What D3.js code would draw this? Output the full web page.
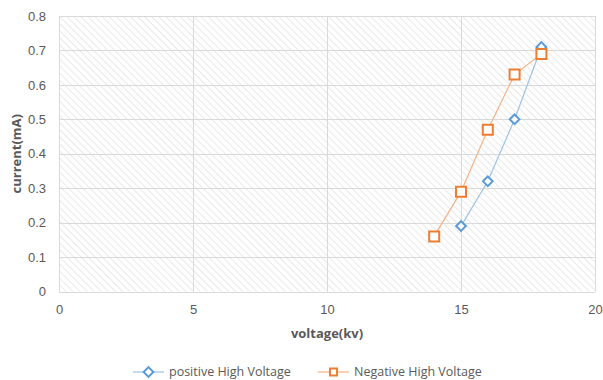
<!DOCTYPE html>
<html>
<head>
<meta charset="utf-8">
<script src="https://cdn.jsdelivr.net/npm/d3@7"></script>
<style>
  html, body { margin: 0; padding: 0; background: #fff; }
  svg { display: block; font-family: "Open Sans", "Liberation Sans", sans-serif; }
</style>
</head>
<body>
<svg id="chart" width="603" height="380"></svg>
<script>
// Measured discharge current against applied voltage
const posVoltage = [15, 16, 17, 18];
const posCurrent = [0.19, 0.32, 0.50, 0.71];
const negVoltage = [14, 15, 16, 17, 18];
const negCurrent = [0.16, 0.29, 0.47, 0.63, 0.69];
const xTicks = [0, 5, 10, 15, 20];
const yTicks = [0, 0.1, 0.2, 0.3, 0.4, 0.5, 0.6, 0.7, 0.8];
const seriesNames = ["positive High Voltage", "Negative High Voltage"];

const svg = d3.select("#chart");
const margin = { left: 59, right: 8, top: 16, bottom: 89 };
const W = 603, H = 380;

const x = d3.scaleLinear().domain([0, 20]).range([margin.left, W - margin.right]);
const y = d3.scaleLinear().domain([0, 0.8]).range([H - margin.bottom + 0.5, margin.top]);

// diagonal hatch fill for the plot area
const defs = svg.append("defs");
const pat = defs.append("pattern")
  .attr("id", "hatch")
  .attr("patternUnits", "userSpaceOnUse")
  .attr("width", 5).attr("height", 5)
  .attr("patternTransform", "rotate(-45)");
pat.append("rect").attr("width", 5).attr("height", 5).attr("fill", "#ffffff");
pat.append("line")
  .attr("x1", 0).attr("y1", 0).attr("x2", 0).attr("y2", 5)
  .attr("stroke", "#e0e0e0").attr("stroke-width", 1.4);

svg.append("rect")
  .attr("x", x(0)).attr("y", y(0.8))
  .attr("width", x(20) - x(0)).attr("height", y(0) - y(0.8))
  .attr("fill", "url(#hatch)");

// gridlines
const grid = svg.append("g").attr("stroke", "#d9d9d9").attr("stroke-width", 1);
grid.selectAll("line.h").data(yTicks).join("line")
  .attr("x1", x(0)).attr("x2", x(20))
  .attr("y1", d => Math.round(y(d)) + 0.5).attr("y2", d => Math.round(y(d)) + 0.5);
grid.selectAll("line.v").data(xTicks).join("line")
  .attr("y1", y(0.8)).attr("y2", y(0))
  .attr("x1", d => Math.round(x(d)) + 0.5).attr("x2", d => Math.round(x(d)) + 0.5);

// axes (labels only, no domain lines)
const yAxis = d3.axisLeft(y).tickValues(yTicks).tickSize(0).tickPadding(13)
  .tickFormat(d => d === 0 ? "0" : d3.format(".1f")(d));
const gy = svg.append("g").attr("transform", `translate(${x(0)},0)`).call(yAxis);
gy.select(".domain").remove();
gy.selectAll("text").attr("fill", "#595959").style("font-size", "13px");

const xAxis = d3.axisBottom(x).tickValues(xTicks).tickSize(0).tickPadding(13);
const gx = svg.append("g").attr("transform", `translate(0,${y(0)})`).call(xAxis);
gx.select(".domain").remove();
gx.selectAll("text").attr("fill", "#595959").style("font-size", "13px");

// axis titles
svg.append("text")
  .attr("x", x(10)).attr("y", 338)
  .attr("text-anchor", "middle")
  .attr("fill", "#595959").style("font-size", "13px").style("font-weight", "bold")
  .text("voltage(kv)");
svg.append("text")
  .attr("transform", `translate(21,${(y(0) + y(0.8)) / 2}) rotate(-90)`)
  .attr("text-anchor", "middle")
  .attr("fill", "#595959").style("font-size", "13px").style("font-weight", "bold")
  .text("current(mA)");

const blue = "#5b9bd5", orange = "#ed7d31";
const blueLine = "#9dc3e6", orangeLine = "#f4b183";

const line = d3.line().x(d => x(d[0])).y(d => y(d[1]));
const pos = posVoltage.map((v, i) => [v, posCurrent[i]]);
const neg = negVoltage.map((v, i) => [v, negCurrent[i]]);

svg.append("path").datum(pos).attr("d", line)
  .attr("fill", "none").attr("stroke", blueLine).attr("stroke-width", 1.2);
svg.append("path").datum(neg).attr("d", line)
  .attr("fill", "none").attr("stroke", orangeLine).attr("stroke-width", 1.2);

const diamond = d3.symbol().type(d3.symbolDiamond2).size(60);
const square = d3.symbol().type(d3.symbolSquare).size(100);

svg.append("g").selectAll("path").data(pos).join("path")
  .attr("d", diamond)
  .attr("transform", d => `translate(${x(d[0])},${y(d[1])})`)
  .attr("fill", "#fff").attr("stroke", blue).attr("stroke-width", 2);
svg.append("g").selectAll("path").data(neg).join("path")
  .attr("d", square)
  .attr("transform", d => `translate(${x(d[0])},${y(d[1])})`)
  .attr("fill", "#fff").attr("stroke", orange).attr("stroke-width", 2);

// legend
const legend = svg.append("g").style("font-size", "12.5px");
const items = [
  { name: seriesNames[0], x0: 133, stroke: blueLine, mark: blue, sym: diamond },
  { name: seriesNames[1], x0: 318, stroke: orangeLine, mark: orange, sym: d3.symbol().type(d3.symbolSquare).size(50) }
];
items.forEach(it => {
  const ly = 372;
  legend.append("line").attr("x1", it.x0).attr("x2", it.x0 + 31)
    .attr("y1", ly).attr("y2", ly).attr("stroke", it.stroke).attr("stroke-width", 1.2);
  legend.append("path").attr("d", it.sym)
    .attr("transform", `translate(${it.x0 + 15.5},${ly})`)
    .attr("fill", "#fff").attr("stroke", it.mark).attr("stroke-width", 2);
  legend.append("text").attr("x", it.x0 + 36).attr("y", ly + 4)
    .attr("fill", "#595959").text(it.name);
});
</script>
</body>
</html>
